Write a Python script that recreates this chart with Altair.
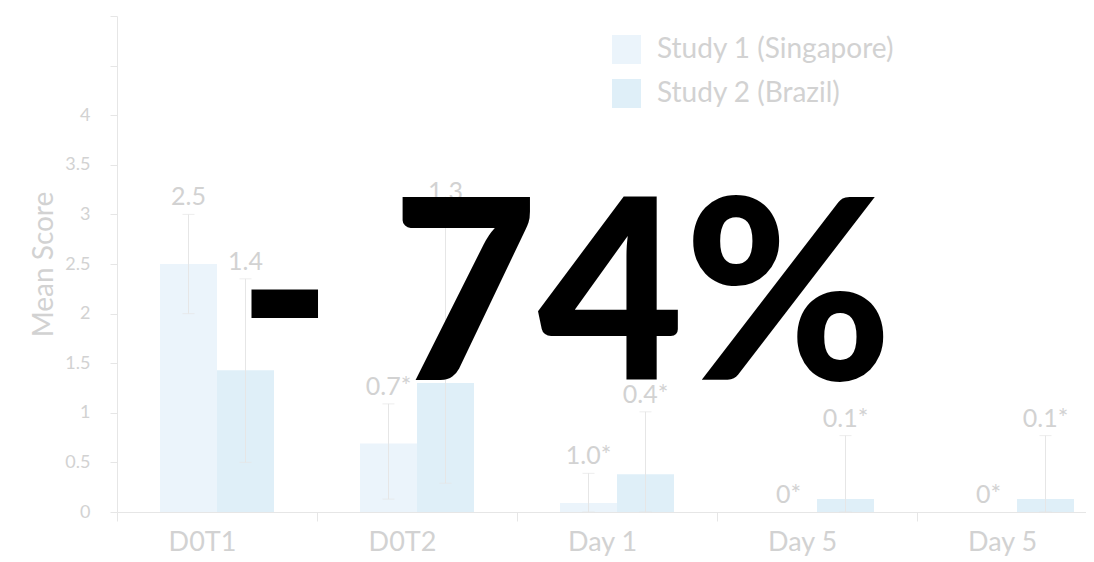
import altair as alt
import pandas as pd

# ---- data ----
x_keys = ["c1", "c2", "c3", "c4", "c5"]
x_labels = ["D0T1", "D0T2", "Day 1", "Day 5", "Day 5"]
studies = ["Study 1 (Singapore)", "Study 2 (Brazil)"]

mean_s1 = [2.5, 0.69, 0.09, 0.0, 0.0]
mean_s2 = [1.43, 1.30, 0.38, 0.13, 0.13]
low_s1 = [2.0, 0.13, 0.0, 0.0, 0.0]
high_s1 = [3.0, 1.09, 0.39, 0.0, 0.0]
low_s2 = [0.5, 0.29, 0.0, 0.0, 0.0]
high_s2 = [2.35, 3.05, 1.01, 0.77, 0.77]
label_s1 = ["2.5", "0.7*", "1.0*", "0*", "0*"]
label_s2 = ["1.4", "1.3", "0.4*", "0.1*", "0.1*"]

y_ticks = [0, 0.5, 1, 1.5, 2, 2.5, 3, 3.5, 4, 4.5, 5]
big_text = "- 74%"

colors = ["#EBF4FB", "#DFEFF8"]
text_gray = "#D2D2D2"
line_gray = "#E6E6E6"
FONT = "Lato"

rows = []
for i, k in enumerate(x_keys):
    rows.append(dict(cat=k, study=studies[0], mean=mean_s1[i], lo=low_s1[i], hi=high_s1[i], lab=label_s1[i]))
    rows.append(dict(cat=k, study=studies[1], mean=mean_s2[i], lo=low_s2[i], hi=high_s2[i], lab=label_s2[i]))
df = pd.DataFrame(rows)

keys_js = "[" + ",".join(f"'{k}'" for k in x_keys) + "]"
labs_js = "[" + ",".join(f"'{l}'" for l in x_labels) + "]"

x_enc = alt.X(
    "cat:N",
    sort=x_keys,
    scale=alt.Scale(range=[0, 1000], paddingInner=0, paddingOuter=0),
    axis=alt.Axis(
        title=None,
        labelExpr=f"{labs_js}[indexof({keys_js}, datum.value)]",
        tickBand="extent",
        tickSize=9,
        labelPadding=8,
        labelFontSize=27,
        labelColor=text_gray,
        labelFont=FONT,
        labelOffset=-15,
        domainColor=line_gray,
        tickColor=line_gray,
        labelAngle=0,
    ),
)
xo_enc = alt.XOffset("study:N", sort=studies, scale=alt.Scale(paddingInner=0, paddingOuter=0.754))
y_scale = alt.Scale(domain=[0, 5], nice=False)

base = alt.Chart(df)

bars = base.mark_bar().encode(
    x=x_enc,
    xOffset=xo_enc,
    y=alt.Y(
        "mean:Q",
        scale=y_scale,
        axis=alt.Axis(
            values=y_ticks,
            labelExpr="datum.value <= 4 ? '' + datum.value : ''",
            grid=False,
            tickSize=7,
            labelPadding=20,
            labelFontSize=18,
            labelColor=text_gray,
            labelFont=FONT,
            domainColor=line_gray,
            tickColor=line_gray,
            title="Mean Score",
            titleFontSize=28,
            titleFont=FONT,
            titleFontWeight="normal",
            titleColor=text_gray,
            titlePadding=6,
        ),
    ),
    color=alt.Color(
        "study:N",
        sort=studies,
        scale=alt.Scale(domain=studies, range=colors),
        legend=alt.Legend(
            title=None,
            orient="none",
            legendX=495,
            legendY=19,
            symbolType="square",
            symbolSize=841,
            symbolStrokeWidth=0,
            symbolOpacity=1,
            labelFontSize=28,
            labelFont=FONT,
            labelColor=text_gray,
            labelOffset=16,
            labelLimit=0,
            rowPadding=15,
            padding=0,
        ),
    ),
)

err = base.transform_filter("datum.hi > datum.lo")

rules = err.mark_rule(color=line_gray, strokeWidth=1).encode(
    x=x_enc, xOffset=xo_enc, y=alt.Y("lo:Q", scale=y_scale), y2="hi:Q"
)
cap_hi = err.mark_tick(color=line_gray, size=12, thickness=1, orient="horizontal").encode(
    x=x_enc, xOffset=xo_enc, y=alt.Y("hi:Q", scale=y_scale)
)
cap_lo = err.mark_tick(color=line_gray, size=12, thickness=1, orient="horizontal").encode(
    x=x_enc, xOffset=xo_enc, y=alt.Y("lo:Q", scale=y_scale)
)

texts = base.mark_text(
    font=FONT, fontSize=25, color=text_gray, dy=-17, baseline="middle", align="center"
).encode(x=x_enc, xOffset=xo_enc, y=alt.Y("hi:Q", scale=y_scale), text="lab:N")

big = alt.Chart(pd.DataFrame({"t": [big_text]})).mark_text(
    font=FONT, fontWeight=900, fontSize=252, color="black", align="center", baseline="alphabetic"
).encode(text="t:N", x=alt.value(448), y=alt.value(364))

chart = (
    alt.layer(bars, rules, cap_hi, cap_lo, texts, big)
    .properties(
        width=969,
        height=496,
        autosize=alt.AutoSizeParams(type="none"),
        padding={"left": 109, "top": 8, "right": 0, "bottom": 50},
    )
    .configure_view(stroke=None)
)

chart.save("out.html", embed_options={"renderer": "svg", "actions": False})
